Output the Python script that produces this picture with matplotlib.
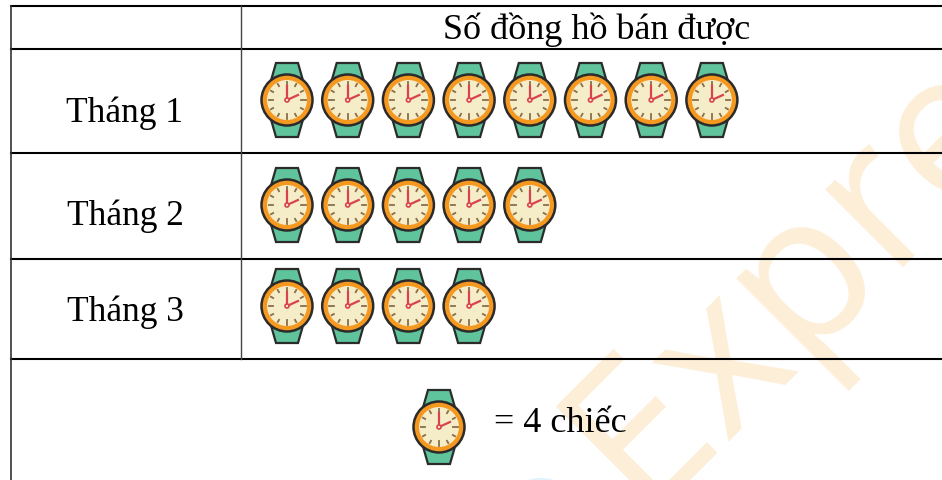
import numpy as np
import matplotlib

matplotlib.use("Agg")
from matplotlib import pyplot as plt
from matplotlib.patches import Circle, Polygon

months = ["Tháng 1", "Tháng 2", "Tháng 3"]
watch_counts = [8, 5, 4]
header = "Số đồng hồ bán được"
legend_label = "= 4 chiếc"

row_lines = [6, 49, 153, 259, 359]
row_centers = [100, 205, 306]
text_centers = [113, 216, 312]
first_x = 287
step_x = 60.7

plt.rcParams['font.family'] = ['Liberation Serif', 'DejaVu Serif']


def _draw_watch(ax, cx, cy):
    green = '#5fc49c'
    dark = '#2b2b2b'
    top = [(-17, -16), (-11, -37), (11, -37), (17, -16)]
    bot = [(-17, 16), (-11, 37), (11, 37), (17, 16)]
    for strap in (top, bot):
        pts = [(cx + a, cy + b) for a, b in strap]
        ax.add_patch(Polygon(pts, closed=True, facecolor=green, edgecolor=dark, linewidth=1.6, zorder=3))
    ax.add_patch(Circle((cx, cy), 25.5, facecolor='#f5981f', edgecolor=dark, linewidth=1.8, zorder=4))
    ax.add_patch(Circle((cx, cy), 20, facecolor='#f5ecc8', edgecolor='none', zorder=5))
    for i in range(12):
        ang = np.radians(i * 30)
        r0 = 14 if i % 3 == 0 else 16
        ax.plot([cx + r0 * np.sin(ang), cx + 18.5 * np.sin(ang)],
                [cy - r0 * np.cos(ang), cy - 18.5 * np.cos(ang)],
                color='#8a6d4a', linewidth=1.3, zorder=6)
    ax.plot([cx, cx], [cy, cy - 14], color='#d9434e', linewidth=1.6, zorder=7)
    ax.plot([cx, cx + 11], [cy, cy - 5], color='#d9434e', linewidth=1.6, zorder=7)
    ax.add_patch(Circle((cx, cy), 2, facecolor='#f5ecc8', edgecolor='#d9434e', linewidth=1.2, zorder=8))


fig = plt.figure(figsize=(9.42, 4.8), dpi=100)
ax = fig.add_axes([0, 0, 1, 1])
ax.set_xlim(0, 942)
ax.set_ylim(480, 0)
ax.axis('off')

# watermark
ax.text(865, 210, "Express", family='Open Sans', fontsize=148, color='#fdeed8', rotation=45,
        rotation_mode='anchor', ha='center', va='center', zorder=1)
ax.add_patch(Circle((541, 522), 44, facecolor='#dff3fb', edgecolor='none', zorder=1))

# table grid
for y in row_lines:
    ax.plot([11, 942], [y, y], color='black', linewidth=1.5, zorder=2)
ax.plot([11, 11], [6, 480], color='#333333', linewidth=1.2, zorder=2)
ax.plot([241, 241], [6, 359], color='#444444', linewidth=1.0, zorder=2)

ax.text(597, 30, header, fontsize=26, ha='center', va='center', color='black', zorder=9)
for month, count, yc, yt in zip(months, watch_counts, row_centers, text_centers):
    ax.text(125, yt, month, fontsize=25.5, ha='center', va='center', color='black', zorder=9)
    for i in range(count):
        _draw_watch(ax, first_x + step_x * i, yc)

_draw_watch(ax, 439, 427)
ax.text(560, 423, legend_label, fontsize=26, ha='center', va='center', color='black', zorder=9)

fig.savefig('out.png', dpi=100)
